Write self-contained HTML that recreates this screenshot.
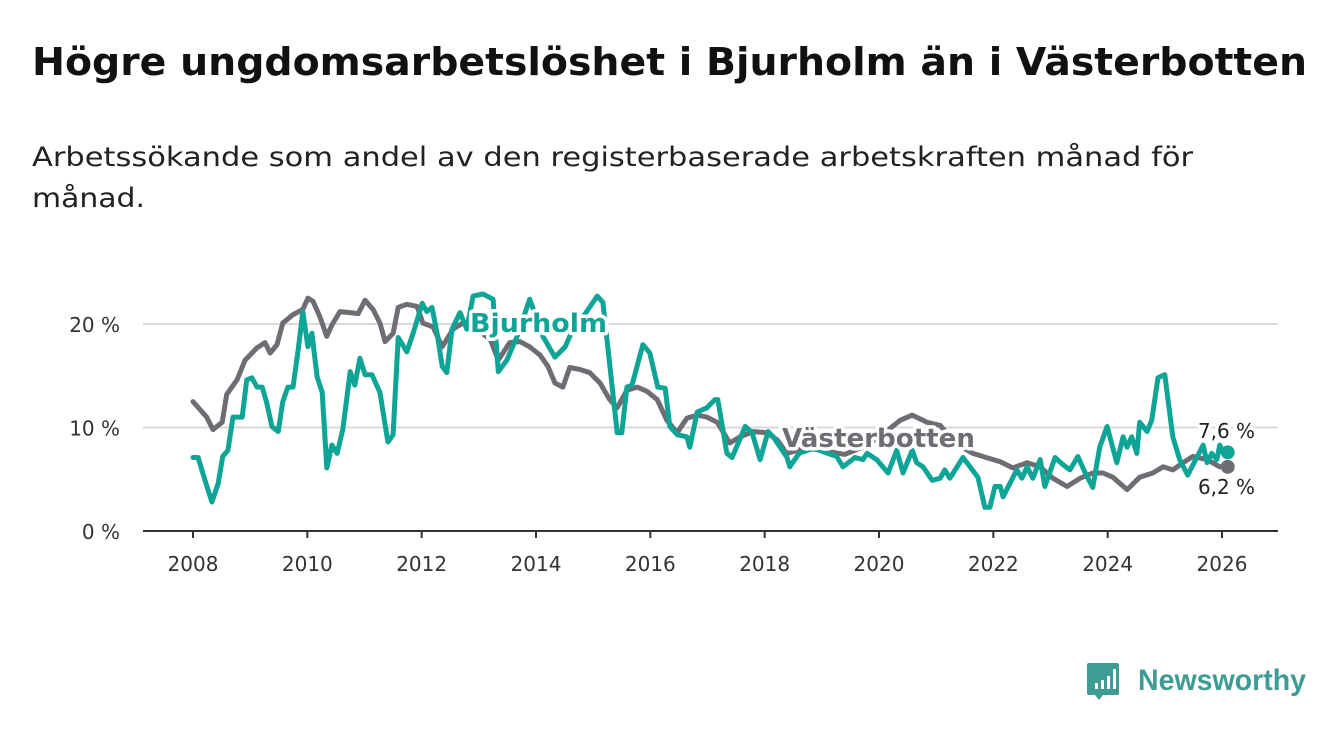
<!DOCTYPE html>
<html><head><meta charset="utf-8"><style>
html,body{margin:0;padding:0;background:#fff;}
svg{display:block;font-family:"DejaVu Sans","Liberation Sans",sans-serif;}
</style></head><body>
<svg id="chart" width="1340" height="734" viewBox="0 0 1340 734">
<text x="32" y="75" font-size="38" font-weight="bold" fill="#111" textLength="1275" lengthAdjust="spacingAndGlyphs">Högre ungdomsarbetslöshet i Bjurholm än i Västerbotten</text>
<text x="32" y="166" font-size="27" fill="#222" textLength="1161" lengthAdjust="spacingAndGlyphs">Arbetssökande som andel av den registerbaserade arbetskraften månad för</text>
<text x="32" y="207" font-size="27" fill="#222" textLength="113" lengthAdjust="spacingAndGlyphs">månad.</text>
<g id="grid"></g>
<g id="series"></g>
<g id="labels"></g>
<g>
<path d="M1089 663 h28 a2 2 0 0 1 2 2 v28 a2 2 0 0 1 -2 2 h-14 l-4 5 l-4 -5 h-6 a2 2 0 0 1 -2 -2 v-28 a2 2 0 0 1 2 -2z" fill="#3f9c95"/>
<rect x="1095" y="683" width="3" height="6" fill="#fff"/><rect x="1101" y="680" width="3" height="9" fill="#fff"/><rect x="1107" y="676" width="3" height="13" fill="#fff"/><rect x="1113" y="669" width="3" height="20" fill="#fff"/>
<text x="1138" y="690" font-size="30" font-weight="bold" fill="#3f9c95" textLength="168" lengthAdjust="spacingAndGlyphs" font-family="Liberation Sans, sans-serif">Newsworthy</text>
</g>
</svg>
<script>
const vbYears=[2008.0,2008.24,2008.35,2008.51,2008.59,2008.77,2008.91,2009.12,2009.26,2009.35,2009.47,2009.57,2009.75,2009.92,2010.01,2010.10,2010.22,2010.34,2010.43,2010.57,2010.75,2010.89,2011.01,2011.15,2011.27,2011.36,2011.50,2011.59,2011.74,2011.92,2012.02,2012.20,2012.36,2012.55,2012.72,2012.97,2013.20,2013.34,2013.54,2013.72,2013.89,2014.07,2014.21,2014.33,2014.47,2014.59,2014.77,2014.94,2015.12,2015.29,2015.42,2015.59,2015.77,2015.94,2016.12,2016.29,2016.47,2016.64,2016.82,2016.99,2017.17,2017.39,2017.57,2017.80,2018.04,2018.22,2018.39,2018.7,2019.0,2019.4,2019.8,2020.1,2020.37,2020.58,2020.84,2021.07,2021.33,2021.64,2021.94,2022.12,2022.34,2022.59,2022.82,2023.04,2023.29,2023.52,2023.74,2023.92,2024.09,2024.34,2024.56,2024.79,2024.97,2025.14,2025.32,2025.49,2025.74,2025.96,2026.10];
const vbValues=[12.5,11.0,9.8,10.5,13.2,14.6,16.5,17.7,18.2,17.2,18.0,20.1,20.9,21.4,22.5,22.2,20.7,18.8,19.9,21.2,21.1,21.0,22.3,21.4,20.1,18.3,19.1,21.6,21.9,21.7,20.1,19.7,17.8,19.5,20.1,19.5,18.5,16.5,18.2,18.3,17.8,17.0,15.9,14.3,13.9,15.8,15.6,15.3,14.3,12.7,11.9,13.6,13.9,13.5,12.7,10.7,9.5,10.9,11.2,11.0,10.5,8.5,9.1,9.6,9.5,8.8,7.5,8.0,7.8,7.4,8.3,9.5,10.7,11.2,10.5,10.2,8.5,7.5,7.0,6.7,6.1,6.6,6.2,5.1,4.3,5.1,5.6,5.6,5.2,4.0,5.2,5.6,6.2,5.9,6.6,7.2,6.9,6.2,6.2];
const bjYears=[2008.0,2008.09,2008.21,2008.33,2008.44,2008.52,2008.61,2008.70,2008.86,2008.94,2009.03,2009.12,2009.21,2009.29,2009.38,2009.49,2009.57,2009.66,2009.75,2009.84,2009.92,2010.01,2010.08,2010.17,2010.26,2010.34,2010.43,2010.52,2010.62,2010.75,2010.83,2010.92,2011.01,2011.13,2011.27,2011.41,2011.50,2011.59,2011.74,2011.85,2012.01,2012.09,2012.18,2012.27,2012.36,2012.44,2012.53,2012.67,2012.79,2012.90,2013.07,2013.25,2013.34,2013.49,2013.67,2013.89,2014.12,2014.33,2014.51,2014.59,2015.07,2015.17,2015.42,2015.50,2015.59,2015.68,2015.87,2015.99,2016.13,2016.26,2016.34,2016.47,2016.64,2016.69,2016.82,2016.99,2017.13,2017.18,2017.34,2017.43,2017.66,2017.78,2017.92,2018.06,2018.15,2018.39,2018.44,2018.6,2018.85,2019.05,2019.26,2019.37,2019.58,2019.72,2019.79,2019.96,2020.16,2020.31,2020.42,2020.58,2020.66,2020.77,2020.93,2021.07,2021.15,2021.24,2021.47,2021.73,2021.85,2021.94,2022.03,2022.12,2022.17,2022.41,2022.50,2022.59,2022.69,2022.82,2022.90,2023.08,2023.22,2023.34,2023.48,2023.60,2023.74,2023.86,2023.99,2024.16,2024.27,2024.34,2024.42,2024.51,2024.56,2024.69,2024.77,2024.88,2025.00,2025.14,2025.26,2025.40,2025.67,2025.74,2025.82,2025.91,2025.96,2026.02,2026.10];
const bjValues=[7.1,7.1,4.9,2.8,4.6,7.2,7.8,11.0,11.0,14.6,14.8,13.9,13.9,12.4,10.1,9.6,12.5,13.9,13.9,17.5,21.2,17.8,19.1,14.9,13.4,6.1,8.3,7.5,9.8,15.4,14.1,16.7,15.1,15.1,13.4,8.6,9.3,18.7,17.3,19.1,22.0,21.2,21.6,19.1,15.9,15.3,19.5,21.1,19.5,22.7,22.9,22.4,15.4,16.5,18.8,22.4,18.8,16.8,17.8,18.8,22.7,22.1,9.5,9.5,13.9,14.1,18.0,17.2,13.9,13.8,10.1,9.3,9.1,8.1,11.5,11.9,12.7,12.7,7.5,7.1,10.1,9.5,6.9,9.6,9.1,7.1,6.2,7.5,8.0,7.6,7.2,6.2,7.1,6.9,7.5,6.9,5.6,7.8,5.6,7.8,6.6,6.2,4.9,5.1,5.9,5.1,7.1,5.2,2.3,2.3,4.3,4.3,3.3,5.9,5.1,6.2,5.1,6.9,4.3,7.1,6.4,5.9,7.2,5.7,4.2,8.1,10.1,6.6,9.1,8.1,9.1,7.5,10.5,9.6,10.7,14.8,15.1,9.1,6.9,5.4,8.3,6.6,7.5,6.9,8.3,7.6,7.6];
const xTicks=[2008,2010,2012,2014,2016,2018,2020,2022,2024,2026];
const yTicks=[0,10,20];
const yTickLabels=["0 %","10 %","20 %"];

const NS="http://www.w3.org/2000/svg";
function xS(y){return 193+(y-2008)*(1029/18);}
function yS(v){return 531-v*10.35;}
function mk(tag,attrs,parent){const e=document.createElementNS(NS,tag);for(const k in attrs)e.setAttribute(k,attrs[k]);parent.appendChild(e);return e;}
const grid=document.getElementById('grid');
yTicks.forEach((t,i)=>{
  if(t>0){const l=mk('line',{x1:143,x2:1278,y1:yS(t),y2:yS(t),stroke:'#d9d9d9','stroke-width':2},grid);
  
  }
  const tx=mk('text',{x:120,y:yS(t)+8,'font-size':20,fill:'#333','text-anchor':'end'},grid);
  tx.textContent=yTickLabels[i];
  
  
});
const ax=mk('line',{x1:143,x2:1278,y1:531,y2:531,stroke:'#333','stroke-width':2},grid);


xTicks.forEach(t=>{
  const tk=mk('line',{x1:xS(t),x2:xS(t),y1:531,y2:538,stroke:'#333','stroke-width':2},grid);
  
  
  const tx=mk('text',{x:xS(t),y:571,'font-size':20,fill:'#333','text-anchor':'middle'},grid);
  tx.textContent=t;
  
  
});
const ser=document.getElementById('series');
function line(xs,vs,color,name){
  const d=xs.map((x,i)=>(i?'L':'M')+xS(x).toFixed(1)+' '+yS(vs[i]).toFixed(1)).join(' ');
  const p=mk('path',{d:d,fill:'none',stroke:color,'stroke-width':5,'stroke-linejoin':'round','stroke-linecap':'round'},ser);
  
  
  const c=mk('circle',{cx:xS(xs[xs.length-1]),cy:yS(vs[vs.length-1]),r:7,fill:color},ser);
  
  
}
line(vbYears,vbValues,'#6f6c73','vasterbotten-line');
line(bjYears,bjValues,'#0ea596','bjurholm-line');
const lab=document.getElementById('labels');
function label(txt,x,y,color,size,bold,name,len){
  const t=mk('text',{x:x,y:y,'font-size':size,'font-weight':bold?'bold':'normal',fill:color,stroke:'#fff','stroke-width':7,'paint-order':'stroke','stroke-linejoin':'round',textLength:len,lengthAdjust:'spacingAndGlyphs'},lab);
  t.textContent=txt;
  
  
}
label('Bjurholm',470,332,'#0ea596',26,true,'bjurholm-label',137);
label('Västerbotten',782,447,'#6f6c73',26,true,'vasterbotten-label',193);
label('7,6 %',1198,438,'#222',20,false,'bjurholm-end-value',57);
label('6,2 %',1198,494,'#222',20,false,'vasterbotten-end-value',57);
</script>
</body></html>
